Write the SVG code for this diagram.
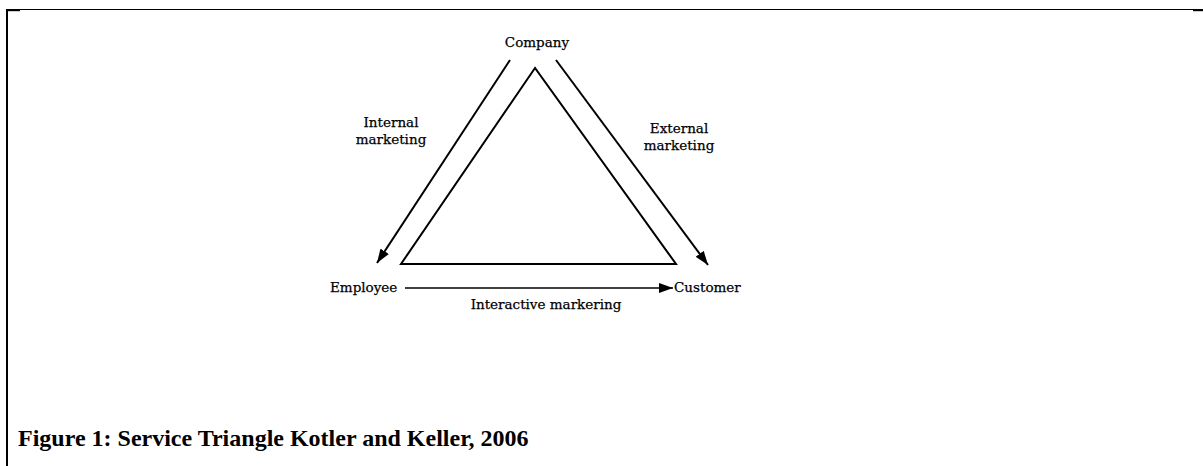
<svg xmlns="http://www.w3.org/2000/svg" width="1203" height="466" viewBox="0 0 1203 466">
  <style>
    .lbl { font-family: "DejaVu Serif", "Liberation Serif", serif; font-size: 13.5px; fill: #000; stroke: #000; stroke-width: 0.25; }
    .cap { font-family: "Liberation Serif", "Times New Roman", serif; font-size: 24px; font-weight: bold; fill: #000; }
    .edge { stroke: #000; stroke-width: 2; fill: none; }
  </style>
  <defs>
    <marker id="head" viewBox="0 0 14 10" refX="14" refY="5" markerWidth="14" markerHeight="10" markerUnits="userSpaceOnUse" orient="auto">
      <path d="M0,0 L14,5 L0,10 Z" fill="#000"/>
    </marker>
  </defs>

  <rect width="1203" height="466" fill="#fff"/>

  <!-- page frame -->
  <g id="frame">
    <line x1="6" y1="9.5" x2="1203" y2="9.5" stroke="#000" stroke-width="1"/>
    <line x1="7" y1="9" x2="7" y2="466" stroke="#000" stroke-width="2"/>
    <rect x="6" y="9" width="14" height="2.2" fill="#000"/>
    <rect x="1193" y="9" width="10" height="2.2" fill="#000"/>
  </g>

  <!-- central triangle -->
  <g id="triangle">
    <polygon class="edge" points="535,68 401,264 676,264" stroke-linejoin="miter"/>
  </g>

  <!-- connectors -->
  <g id="connectors">
    <line x1="510" y1="60" x2="377" y2="263" stroke="#000" stroke-width="2" marker-end="url(#head)"/>
    <line x1="556" y1="60" x2="708" y2="265" stroke="#000" stroke-width="2" marker-end="url(#head)"/>
    <line x1="405" y1="288" x2="673" y2="288" stroke="#000" stroke-width="1.5" marker-end="url(#head)"/>
  </g>

  <g id="company">
    <text class="lbl" x="537" y="47" text-anchor="middle">Company</text>
  </g>
  <g id="employee">
    <text class="lbl" x="330" y="292">Employee</text>
  </g>
  <g id="customer">
    <text class="lbl" x="674" y="292">Customer</text>
  </g>

  <g id="labels">
    <text class="lbl" x="391" y="127" text-anchor="middle">Internal</text>
    <text class="lbl" x="391" y="144" text-anchor="middle">marketing</text>
    <text class="lbl" x="679" y="133" text-anchor="middle">External</text>
    <text class="lbl" x="679" y="150" text-anchor="middle">marketing</text>
    <text class="lbl" x="546" y="309" text-anchor="middle">Interactive markering</text>
  </g>

  <text class="cap" x="18" y="446">Figure 1: Service Triangle Kotler and Keller, 2006</text>
</svg>
